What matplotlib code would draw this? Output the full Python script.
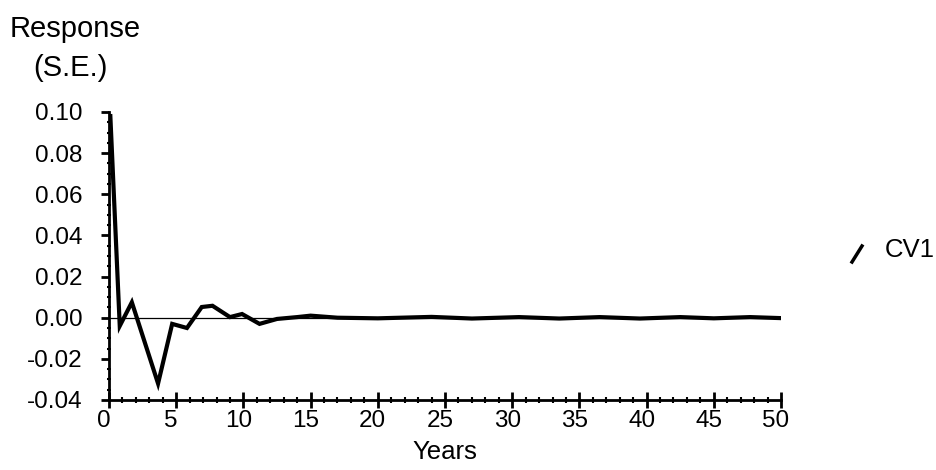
import matplotlib
matplotlib.use("Agg")
import matplotlib.pyplot as plt
from matplotlib.ticker import MultipleLocator, FormatStrFormatter
from matplotlib.transforms import ScaledTranslation
from matplotlib.lines import Line2D

plt.rcParams['font.family'] = ['Liberation Sans', 'DejaVu Sans']
plt.rcParams['axes.unicode_minus'] = False

# --- data (impulse response, CV1) ---
years = [0.1, 0.8, 1.7, 3.65, 4.7, 5.8, 6.9, 7.7, 9.0, 9.9, 11.2, 12.5,
         14.0, 15.0, 17.0, 20.0, 24.0, 27.0, 30.5, 33.5, 36.5, 39.5,
         42.5, 45.0, 47.7, 50.0]
cv1 = [0.098, -0.004, 0.0075, -0.032, -0.003, -0.005, 0.0052, 0.0058,
       0.0003, 0.0018, -0.003, -0.0006, 0.0003, 0.001, 0.0, -0.0003,
       0.0004, -0.0004, 0.0003, -0.0004, 0.0003, -0.0004, 0.0003,
       -0.0003, 0.0003, -0.0002]

x_ticks = [0, 5, 10, 15, 20, 25, 30, 35, 40, 45, 50]
y_ticks = [-0.04, -0.02, 0.00, 0.02, 0.04, 0.06, 0.08, 0.10]

fig = plt.figure(figsize=(9.37, 4.70), dpi=100)
ax = fig.add_axes([0.11633, 0.14894, 0.71718, 0.61277])

# zero reference line + response
ax.plot([0, 50], [0, 0], color='black', lw=0.9)
ax.plot(years, cv1, color='black', lw=3.0, solid_joinstyle='miter')

ax.set_xlim(0, 50)
ax.set_ylim(-0.04, 0.10)
ax.set_xticks(x_ticks)
ax.set_yticks(y_ticks)
ax.xaxis.set_minor_locator(MultipleLocator(1))
ax.yaxis.set_minor_locator(MultipleLocator(0.005))
ax.yaxis.set_major_formatter(FormatStrFormatter('%.2f'))

for side in ['top', 'right']:
    ax.spines[side].set_visible(False)
for side in ['left', 'bottom']:
    ax.spines[side].set_linewidth(2.0)

ax.tick_params(axis='x', which='major', direction='inout', length=11,
               width=2, pad=2, labelsize=17.5)
ax.tick_params(axis='x', which='minor', direction='inout', length=4, width=1.5)
ax.tick_params(axis='y', which='major', direction='out', length=6,
               width=2, pad=13, labelsize=17.5)
ax.tick_params(axis='y', which='minor', direction='inout', length=3, width=1.5)

# tick labels sit a bit left of their ticks in the original
shift = ScaledTranslation(-0.05, 0, fig.dpi_scale_trans)
for lab in ax.get_xticklabels():
    lab.set_transform(lab.get_transform() + shift)

# axis titles
fig.text(10 / 937, 1 - 37 / 470, 'Response', fontsize=21, ha='left', va='baseline')
fig.text(33 / 937, 1 - 68 / 470, '(S.E.)', fontsize=21, ha='left', va='center')
fig.text(445 / 937, 1 - 452 / 470, 'Years', fontsize=18.5, ha='center', va='center')

# legend-like key on the right
fig.add_artist(Line2D([852 / 937, 862 / 937], [1 - 262 / 470, 1 - 246 / 470],
                      color='black', lw=2.5, transform=fig.transFigure))
fig.text(885 / 937, 1 - 250 / 470, 'CV1', fontsize=18.5, ha='left', va='center')

fig.savefig('out.png', dpi=100)
